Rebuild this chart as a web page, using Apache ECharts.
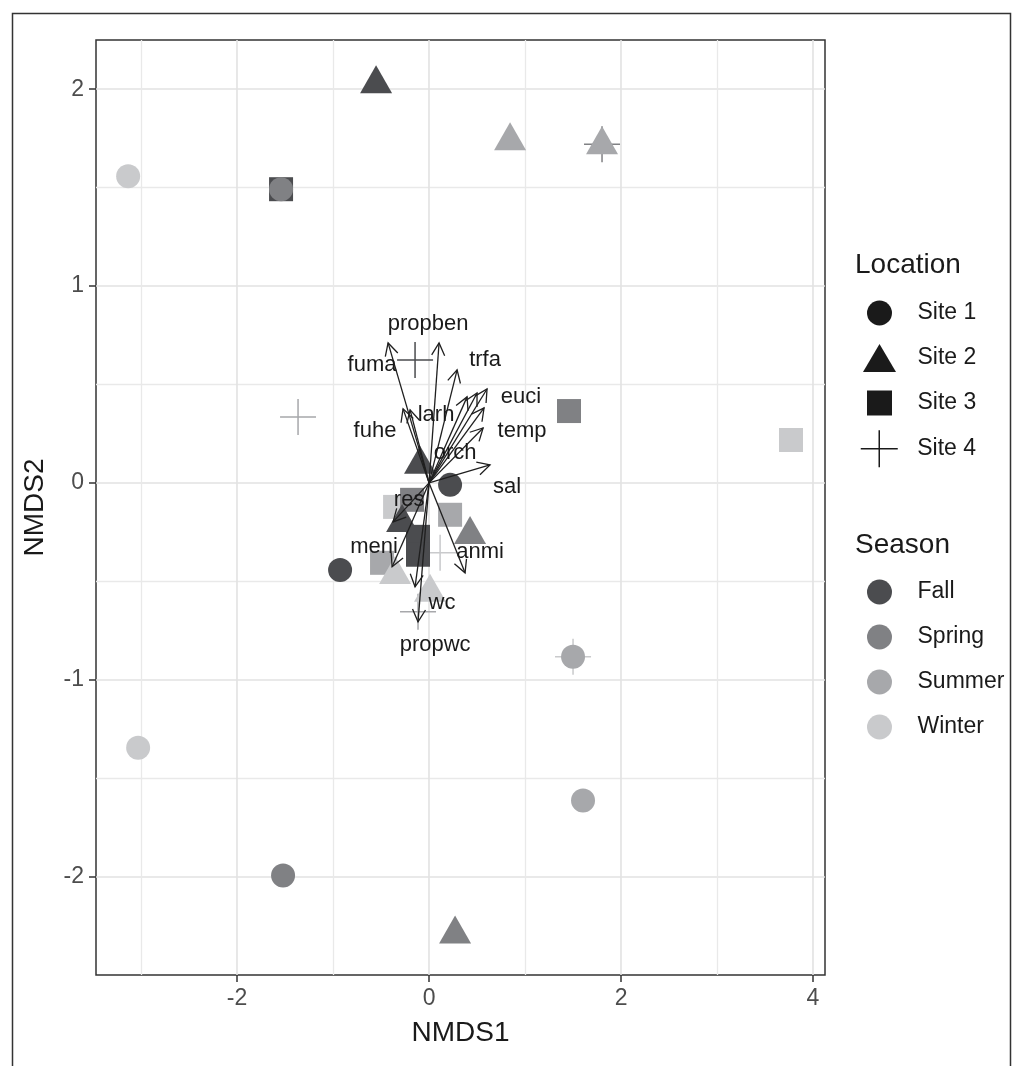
<!DOCTYPE html>
<html>
<head>
<meta charset="utf-8">
<title>NMDS ordination</title>
<script src="https://cdn.jsdelivr.net/npm/echarts@6/dist/echarts.min.js"></script>
<style>
  html, body { margin: 0; padding: 0; background: #fff; }
  #chart { width: 1016px; height: 1066px; }
</style>
</head>
<body>
<div id="chart"></div>
<script>
// NMDS scores per site, season of each sample
const site1X = [-3.135, -1.542, 0.219, -0.927, 1.5, -3.031, 1.604, -1.521]
const site1Y = [1.558, 1.492, -0.010, -0.442, -0.883, -1.345, -1.614, -1.995]
const site1Season = ['Winter', 'Spring', 'Fall', 'Fall', 'Summer', 'Winter', 'Summer', 'Spring']

const site2X = [-0.552, 0.844, 1.802, -0.094, 0.427, -0.281, -0.354, 0.010, 0.271]
const site2Y = [2.051, 1.761, 1.741, 0.117, -0.239, -0.178, -0.442, -0.533, -2.269]
const site2Season = ['Fall', 'Summer', 'Summer', 'Fall', 'Spring', 'Fall', 'Winter', 'Winter', 'Spring']

const site3X = [-1.542, 3.771, 1.458, -0.354, -0.177, 0.219, -0.115, -0.115, -0.490]
const site3Y = [1.492, 0.218, 0.365, -0.122, -0.086, -0.162, -0.274, -0.365, -0.406]
const site3Season = ['Fall', 'Winter', 'Spring', 'Winter', 'Spring', 'Summer', 'Fall', 'Fall', 'Summer']

const site4X = [1.802, -1.365, -0.146, 0.115, -0.115, 1.5]
const site4Y = [1.721, 0.335, 0.624, -0.355, -0.655, -0.883]
const site4Season = ['Spring', 'Summer', 'Fall', 'Winter', 'Summer', 'Winter']

// env fit vectors (arrow tips)
const arrowX = [-0.427, 0.104, 0.292, 0.396, 0.5, 0.604, 0.573, 0.563, 0.635, -0.271, -0.198, -0.375, -0.385, 0.375, -0.146, -0.115]
const arrowY = [0.711, 0.711, 0.574, 0.437, 0.457, 0.477, 0.381, 0.279, 0.091, 0.376, 0.371, -0.198, -0.426, -0.457, -0.528, -0.706]

// vector labels
const labelNames = ['propben', 'fuma', 'trfa', 'euci', 'larh', 'fuhe', 'temp', 'orch', 'sal', 'res', 'meni', 'anmi', 'wc', 'propwc']
const labelX = [-0.010, -0.594, 0.583, 0.958, 0.073, -0.563, 0.969, 0.271, 0.813, -0.208, -0.573, 0.531, 0.135, 0.063]
const labelY = [0.807, 0.599, 0.624, 0.437, 0.345, 0.264, 0.264, 0.152, -0.020, -0.086, -0.325, -0.350, -0.609, -0.822]

const seasonNames = ['Fall', 'Spring', 'Summer', 'Winter']
const seasonColors = ['#4b4c4f', '#808184', '#a7a8ab', '#c9cacc']
const siteNames = ['Site 1', 'Site 2', 'Site 3', 'Site 4']

const xMajor = [-2, 0, 2, 4]
const xMinor = [-3, -1, 1, 3]
const yMajor = [-2, -1, 0, 1, 2]
const yMinor = [-1.5, -0.5, 0.5, 1.5]

const FONT = '"Liberation Sans", Arial, sans-serif'
const CROSS = 'path://M0,18.5 H37 M18.5,0 V37'
const TRI = 'path://M16.5,0 L33,28 L0,28 Z'
const SQUARE = 'path://M0,0 H25 V25 H0 Z'

const seasonColor = s => seasonColors[seasonNames.indexOf(s)]

function points(xs, ys, seasons, stroke) {
  return xs.map((x, i) => ({
    value: [x, ys[i]],
    itemStyle: stroke ? { borderColor: seasonColor(seasons[i]) } : { color: seasonColor(seasons[i]) }
  }))
}

const chart = echarts.init(document.getElementById('chart'))

// legend icons get drawn from the left of the box, so shift each to centre ~879
const siteLegendY = [313, 358, 403, 448]
const siteLegendX = [867, 863, 867, 860]
const siteIcons = ['circle', TRI, SQUARE, CROSS]
const siteIconH = [25, 28, 25, 37]

const legendText = { fontSize: 23, color: '#1a1a1a', fontFamily: FONT }
const legends = siteNames.map((name, i) => ({
  data: [i === 3
    ? { name, icon: siteIcons[i], itemStyle: { color: 'transparent', borderColor: '#1a1a1a', borderWidth: 1.5, opacity: 1 } }
    : { name, icon: siteIcons[i], itemStyle: { color: '#1a1a1a', opacity: 1 } }],
  left: siteLegendX[i],
  top: siteLegendY[i] - siteIconH[i] / 2,
  padding: 0,
  itemWidth: 66,
  itemHeight: siteIconH[i],
  selectedMode: false,
  textStyle: legendText
}))
legends.push({
  data: seasonNames,
  orient: 'vertical',
  icon: 'circle',
  left: 867,
  top: 579.5,
  padding: 0,
  itemWidth: 66,
  itemHeight: 25,
  itemGap: 20,
  selectedMode: false,
  textStyle: legendText
})

const valueAxis = (min, max, ticks) => ({
  type: 'value',
  min: min,
  max: max,
  axisLine: { show: false, onZero: false },
  axisTick: { show: true, customValues: ticks, length: 7, lineStyle: { color: '#333', width: 1.5 } },
  axisLabel: { customValues: ticks, fontSize: 23, color: '#4d4d4d', fontFamily: FONT, margin: 12 },
  splitLine: { show: true, lineStyle: { color: '#e2e2e2', width: 1.6 } }
})
const minorAxis = (min, max, ticks) => ({
  type: 'value',
  min: min,
  max: max,
  axisLine: { show: false, onZero: false },
  axisTick: { show: false, customValues: ticks },
  axisLabel: { show: false, customValues: ticks },
  splitLine: { show: true, lineStyle: { color: '#e9e9e9', width: 1.3 } }
})

const titleText = { fontSize: 28, fontWeight: 'normal', color: '#1a1a1a', fontFamily: FONT }

const option = {
  animation: false,
  backgroundColor: '#fff',
  textStyle: { fontFamily: FONT },
  title: [
    { text: 'Location', left: 855, top: 251, padding: 0, textStyle: titleText },
    { text: 'Season', left: 855, top: 531, padding: 0, textStyle: titleText }
  ],
  legend: legends,
  grid: {
    left: 96, right: 191, top: 40, bottom: 91,
    show: true, borderColor: '#333', borderWidth: 1.5, backgroundColor: '#fff',
    containLabel: false, outerBoundsMode: 'none'
  },
  xAxis: [
    Object.assign(valueAxis(-3.47, 4.125, xMajor), {
      name: 'NMDS1', nameLocation: 'middle', nameGap: 44,
      nameTextStyle: { fontSize: 28, color: '#1a1a1a', fontFamily: FONT }
    }),
    minorAxis(-3.47, 4.125, xMinor)
  ],
  yAxis: [
    Object.assign(valueAxis(-2.5, 2.25, yMajor), {
      name: 'NMDS2', nameLocation: 'middle', nameGap: 47, nameRotate: 90,
      nameTextStyle: { fontSize: 28, color: '#1a1a1a', fontFamily: FONT }
    }),
    minorAxis(-2.5, 2.25, yMinor)
  ],
  graphic: [{
    type: 'rect', left: 10, top: 11, silent: true,
    shape: { width: 998, height: 1100 },
    style: { fill: 'none', stroke: '#333', lineWidth: 1.5 }
  }],
  series: [
    {
      name: 'Site 4', type: 'scatter', symbol: CROSS, symbolSize: 36,
      itemStyle: { color: 'transparent', borderColor: '#1a1a1a', borderWidth: 1.5, opacity: 1 },
      data: points(site4X, site4Y, site4Season, true)
    },
    {
      name: 'Site 3', type: 'scatter', symbol: 'rect', symbolSize: 24,
      itemStyle: { color: '#1a1a1a', opacity: 1 },
      data: points(site3X, site3Y, site3Season)
    },
    {
      name: 'Site 2', type: 'scatter', symbol: 'triangle', symbolSize: [32, 28],
      itemStyle: { color: '#1a1a1a', opacity: 1 },
      data: points(site2X, site2Y, site2Season)
    },
    {
      name: 'Site 1', type: 'scatter', symbol: 'circle', symbolSize: 24,
      itemStyle: { color: '#1a1a1a', opacity: 1 },
      data: points(site1X, site1Y, site1Season)
    },
    ...seasonNames.map((s, i) => ({
      name: s, type: 'scatter', data: [], itemStyle: { color: seasonColors[i], opacity: 1 }
    })),
    {
      type: 'custom',
      silent: true,
      z: 5,
      data: arrowX.map((x, i) => [x, arrowY[i]]),
      renderItem: (params, api) => {
        const o = api.coord([0, 0])
        const t = api.coord([api.value(0), api.value(1)])
        const ang = Math.atan2(t[1] - o[1], t[0] - o[0])
        const h = 14, a = Math.PI / 6.5
        const head = [
          [t[0] - h * Math.cos(ang - a), t[1] - h * Math.sin(ang - a)],
          t,
          [t[0] - h * Math.cos(ang + a), t[1] - h * Math.sin(ang + a)]
        ]
        const st = { stroke: '#1f1f1f', lineWidth: 1.3, fill: 'none' }
        return {
          type: 'group',
          children: [
            { type: 'line', shape: { x1: o[0], y1: o[1], x2: t[0], y2: t[1] }, style: st },
            { type: 'polyline', shape: { points: head }, style: st }
          ]
        }
      }
    },
    {
      type: 'custom',
      silent: true,
      z: 6,
      data: labelX.map((x, i) => [x, labelY[i]]),
      renderItem: (params, api) => {
        const p = api.coord([api.value(0), api.value(1)])
        return {
          type: 'text',
          x: p[0], y: p[1],
          style: {
            text: labelNames[params.dataIndex],
            fill: '#1a1a1a',
            font: '22px ' + FONT,
            align: 'center',
            verticalAlign: 'middle'
          }
        }
      }
    }
  ]
}

chart.setOption(option)
</script>
</body>
</html>
